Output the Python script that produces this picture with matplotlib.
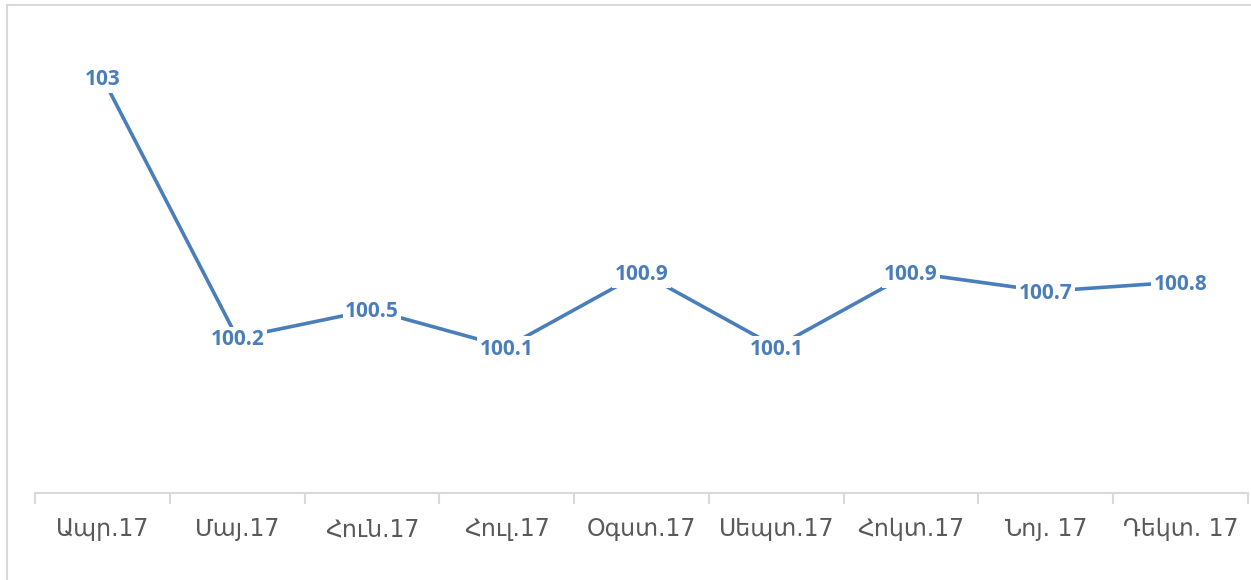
import matplotlib.pyplot as plt
from matplotlib.patches import Rectangle

# Monthly index values (Armenian month labels)
months = ["Ապր.17", "Մայ.17", "Հուն.17", "Հուլ.17", "Օգստ.17",
          "Սեպտ.17", "Հոկտ.17", "Նոյ. 17", "Դեկտ. 17"]
values = [103, 100.2, 100.5, 100.1, 100.9, 100.1, 100.9, 100.7, 100.8]
value_labels = ["103", "100.2", "100.5", "100.1", "100.9", "100.1", "100.9", "100.7", "100.8"]

W, H = 1251, 580
fig = plt.figure(figsize=(W / 100, H / 100), dpi=100)

# chart area border (light gray, runs off the right/bottom edges)
fig.patches.append(Rectangle((7 / W, -0.1), 1.2, 1 - 5 / H + 0.1, transform=fig.transFigure,
                             fill=False, edgecolor="#d9d9d9", linewidth=1.5))

# plot area in pixel coordinates
left, right, top, bottom = 35, 1248, 31, 493
ax = fig.add_axes([left / W, 1 - bottom / H, (right - left) / W, (bottom - top) / H])

x = list(range(len(months)))
blue = "#4a7ebb"
ax.plot(x, values, color=blue, linewidth=2.6, solid_capstyle="butt", zorder=2)

for xi, v, lab in zip(x, values, value_labels):
    ax.annotate(lab, (xi, v), xytext=(0, -1.5), textcoords="offset points",
                ha="center", va="center", fontsize=15, fontweight="bold",
                color=blue, family=["Open Sans", "DejaVu Sans"], zorder=3,
                bbox=dict(boxstyle="square,pad=0.12", facecolor="white", edgecolor="none"))

ax.set_xlim(-0.5, len(months) - 0.5)
ax.set_ylim(98.53, 103.5)

for s in ["top", "right", "left"]:
    ax.spines[s].set_visible(False)
ax.spines["bottom"].set_color("#d9d9d9")
ax.spines["bottom"].set_linewidth(1.5)
ax.set_yticks([])

# tick marks at category boundaries, labels at centers
ax.set_xticks([i - 0.5 for i in range(len(months) + 1)], minor=False)
ax.set_xticklabels([])
ax.tick_params(axis="x", which="major", length=8, width=1.5, color="#d9d9d9")
ax.set_xticks(x, minor=True)
ax.set_xticklabels(months, minor=True, fontsize=17, color="#595959",
                   family=["DejaVu Sans"])
ax.tick_params(axis="x", which="minor", length=0, pad=17.5)

fig.savefig("out.png", dpi=100)
